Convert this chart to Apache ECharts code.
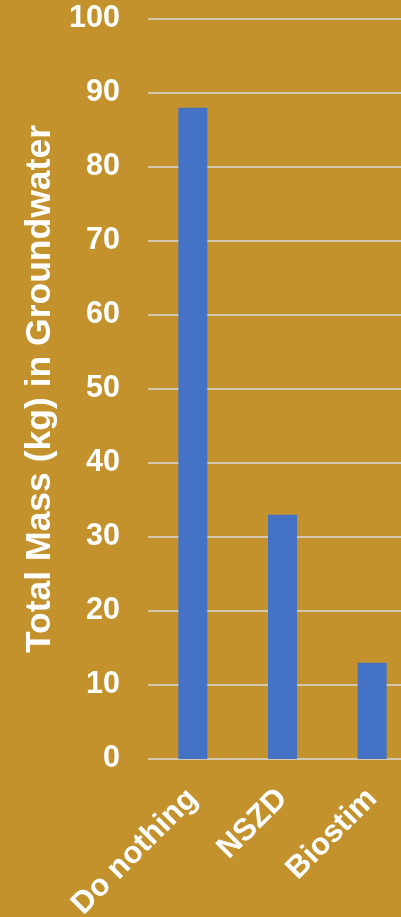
<!DOCTYPE html>
<html>
<head>
<meta charset="utf-8">
<script src="https://cdn.jsdelivr.net/npm/echarts@6/dist/echarts.min.js"></script>
<style>
html,body{margin:0;padding:0;background:#C4922D;}
#chart{width:401px;height:917px;}
</style>
</head>
<body>
<div id="chart"></div>
<script>
const categories = ["Do nothing", "NSZD", "Biostim"];
const massValues = [88, 33, 13];
const yTicks = {min: 0, max: 100, interval: 10};
const yTitle = "Total Mass (kg) in Groundwater";

const chart = echarts.init(document.getElementById('chart'), null, {renderer: 'canvas'});
const font = "'Liberation Sans', Arial, sans-serif";
chart.setOption({
  backgroundColor: '#C4922D',
  animation: false,
  grid: {left: 148, width: 269, top: 19, bottom: 158, containLabel: false, outerBoundsMode: 'none'},
  xAxis: {
    type: 'category',
    data: categories,
    axisLine: {show: false},
    axisTick: {show: false},
    axisLabel: {
      interval: 0, rotate: 45, margin: 35,
      color: '#ffffff', fontWeight: 'bold', fontSize: 31, fontFamily: font
    }
  },
  yAxis: {
    type: 'value',
    min: yTicks.min, max: yTicks.max, interval: yTicks.interval,
    name: yTitle,
    nameLocation: 'middle',
    nameRotate: 90,
    nameGap: 85,
    nameTextStyle: {color: '#ffffff', fontWeight: 'bold', fontSize: 35.5, fontFamily: font},
    axisLine: {show: false},
    axisTick: {show: false},
    axisLabel: {margin: 28, color: '#ffffff', fontWeight: 'bold', fontSize: 30.5, fontFamily: font},
    splitLine: {show: true, lineStyle: {color: '#D9D9D9', width: 1.5}}
  },
  series: [{
    type: 'bar',
    data: massValues,
    barWidth: 29,
    itemStyle: {color: '#4472C4'}
  }]
});
</script>
</body>
</html>
